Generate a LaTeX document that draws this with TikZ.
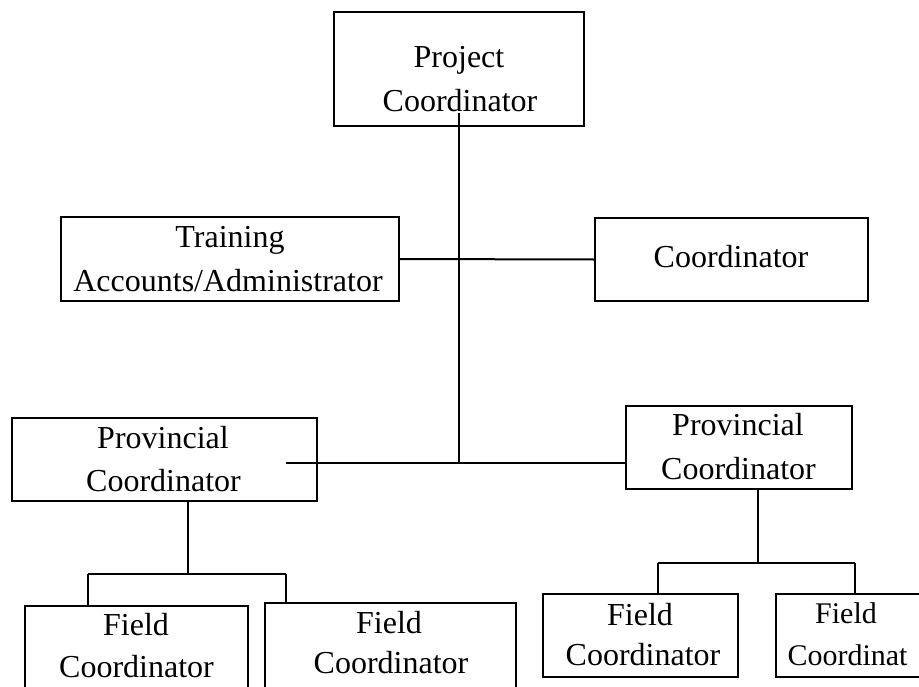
\documentclass[tikz,border=0pt]{standalone}
\usepackage{fontspec}
\setmainfont{Liberation Serif}
\begin{document}
\begin{tikzpicture}[x=1pt,y=-1pt,
  box/.style={draw=black, line width=2pt, fill=none, inner sep=0pt, outer sep=0pt},
  txt/.style={anchor=base, inner sep=0pt, font=\fontsize{32}{38}\selectfont},
  txts/.style={anchor=base, inner sep=0pt, font=\fontsize{30}{36}\selectfont},
  conn/.style={draw=black, line width=2pt}]
\useasboundingbox (0,0) rectangle (919,686);
\begin{scope}
\clip (0,0) rectangle (919,686);
% boxes
\node[box, minimum width=250pt, minimum height=114pt] (pc) at (459,69) {};
\node[box, minimum width=338pt, minimum height=84pt] (ta) at (230,259) {};
\node[box, minimum width=273pt, minimum height=83pt] (co) at (731.5,259.5) {};
\node[box, minimum width=305pt, minimum height=83pt] (pl) at (164.5,459.5) {};
\node[box, minimum width=226pt, minimum height=83pt] (pr) at (739,447.5) {};
\node[box, minimum width=223pt, minimum height=89pt] (f1) at (136.5,650.5) {};
\node[box, minimum width=251pt, minimum height=92pt] (f2) at (390.5,649) {};
\node[box, minimum width=195pt, minimum height=83pt] (f3) at (640.5,635.5) {};
\node[box, minimum width=149pt, minimum height=83pt] (f4) at (850.5,635.5) {};
% texts
\node[txt] (pc1) at (459,67) {Project};
\node[txt] (pc2) at (460,111) {Coordinator};
\node[txt] (ta1) at (230,247) {Training};
\node[txt] (ta2) at (228,291) {Accounts/Administrator};
\node[txt] (co1) at (731,267) {Coordinator};
\node[txt] (pl1) at (163,448) {Provincial};
\node[txt] (pl2) at (163.5,491) {Coordinator};
\node[txt] (pr1) at (738,435) {Provincial};
\node[txt] (pr2) at (738.5,479) {Coordinator};
\node[txt] (f1a) at (136,635) {Field};
\node[txt] (f1b) at (136.5,677) {Coordinator};
\node[txt] (f2a) at (389,633) {Field};
\node[txt] (f2b) at (391,673) {Coordinator};
\node[txt] (f3a) at (640,625) {Field};
\node[txt] (f3b) at (643,665) {Coordinator};
\node[txts] (f4a) at (846,623) {Field};
\node[txts] (f4b) at (847.5,665) {Coordinat};
% coordinates for connectors
\coordinate (ptop) at (459,113);
\coordinate (hub) at (459,462.5);
\coordinate (plin) at (286,462.5);
\coordinate (lb) at (188,574);
\coordinate (lbl) at (88,574);
\coordinate (lbr) at (286,574);
\coordinate (rb) at (758,563);
\coordinate (rbl) at (658,563);
\coordinate (rbr) at (855,563);
% connectors
\draw[conn] (ptop) -- (hub);
\draw[conn] (ta.east) -- (co.west);
\draw[conn] (plin) -- (pr.west |- hub);
\draw[conn] (pl.south -| lb) -- (lb);
\draw[conn] (lbl) -- (lbr);
\draw[conn] (lbl) -- (f1.north -| lbl);
\draw[conn] (lbr) -- (f2.north -| lbr);
\draw[conn] (pr.south -| rb) -- (rb);
\draw[conn] (rbl) -- (rbr);
\draw[conn] (rbl) -- (f3.north -| rbl);
\draw[conn] (rbr) -- (f4.north -| rbr);
\end{scope}
\end{tikzpicture}
\end{document}
